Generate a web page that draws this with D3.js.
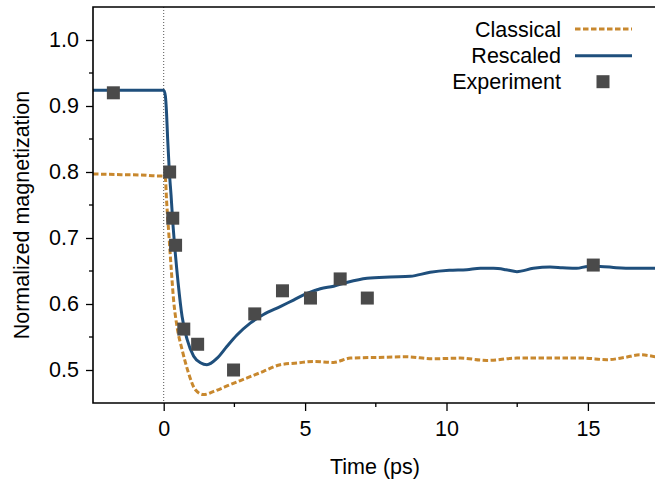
<!DOCTYPE html>
<html><head><meta charset="utf-8">
<script src="https://cdn.jsdelivr.net/npm/d3@7"></script>
<style>body{margin:0;background:#fff}svg{display:block}text{font-family:"Liberation Sans",Arial,sans-serif;fill:#000}</style>
</head><body>
<script>
// Data
const rescaledT = [-2.5,-1.5,-0.5,0.0,0.06,0.1,0.14,0.2,0.26,0.32,0.39,0.51,0.65,0.83,1.06,1.3,1.53,1.89,2.24,2.59,3.06,3.53,4.12,4.59,5.07,5.54,6.01,6.5,7.19,8.0,8.72,9.42,10.1,10.72,11.2,11.66,12.1,12.49,13.07,13.66,14.1,14.6,15.0,15.43,16.0,16.61,17.5];
const rescaledV = [0.924,0.924,0.924,0.924,0.915,0.89,0.85,0.80,0.765,0.725,0.687,0.632,0.581,0.546,0.521,0.511,0.508,0.518,0.536,0.553,0.571,0.584,0.596,0.606,0.616,0.623,0.627,0.633,0.639,0.641,0.642,0.648,0.651,0.652,0.654,0.654,0.652,0.649,0.654,0.656,0.655,0.654,0.657,0.657,0.655,0.654,0.654];
const classicalT = [-2.5,-1.5,-0.8,-0.2,0.0,0.06,0.1,0.18,0.26,0.35,0.47,0.65,0.88,1.12,1.41,1.77,2.36,2.95,3.53,4.12,4.71,5.3,6.0,6.6,7.5,8.6,9.5,10.48,11.43,12.49,13.5,14.84,15.67,16.3,16.84,17.5];
const classicalV = [0.797,0.796,0.7955,0.794,0.794,0.79,0.758,0.707,0.657,0.606,0.566,0.531,0.495,0.470,0.4627,0.4676,0.478,0.488,0.498,0.508,0.5106,0.513,0.5115,0.518,0.519,0.52,0.517,0.518,0.5145,0.518,0.518,0.518,0.5156,0.519,0.523,0.519];
const expT = [-1.78,0.21,0.32,0.42,0.71,1.2,2.47,3.22,4.2,5.19,6.24,7.2,15.19];
const expV = [0.92,0.80,0.73,0.689,0.562,0.539,0.50,0.585,0.62,0.609,0.638,0.609,0.659];
const xTicks = [0,5,10,15];
const xMinor = [2.5,7.5,12.5];
const yTicks = [0.5,0.6,0.7,0.8,0.9,1.0];
const yMinor = [0.55,0.65,0.75,0.85,0.95];
const legendLabels = ["Classical","Rescaled","Experiment"];

const W=655,H=483;
const L=93,T=7,B=403;
const x=d3.scaleLinear().domain([-2.5,17.5]).range([L,658.6]);
const y=d3.scaleLinear().domain([0.45,1.05]).range([B,T]);
const orange="#c8882e", blue="#1f4f7c", grey="#4a4a4a";

const svg=d3.select("body").append("svg").attr("width",W).attr("height",H);
svg.append("defs").append("clipPath").attr("id","clip").append("rect")
  .attr("x",L).attr("y",T).attr("width",x.range()[1]-L).attr("height",B-T);

// dotted zero line
svg.append("line").attr("x1",x(0)).attr("x2",x(0)).attr("y1",T).attr("y2",B)
  .attr("stroke","#555").attr("stroke-width",1).attr("stroke-dasharray","1,2");

const g=svg.append("g").attr("clip-path","url(#clip)");
const line=d3.line().x(d=>x(d[0])).y(d=>y(d[1])).curve(d3.curveMonotoneX);
g.append("path").datum(classicalT.map((t,i)=>[t,classicalV[i]]))
  .attr("d",line).attr("fill","none").attr("stroke",orange).attr("stroke-width",3).attr("stroke-dasharray","5.5,2.5");
g.append("path").datum(rescaledT.map((t,i)=>[t,rescaledV[i]]))
  .attr("d",line).attr("fill","none").attr("stroke",blue).attr("stroke-width",3);
const S=13;
g.selectAll("rect.exp").data(expT.map((t,i)=>[t,expV[i]])).enter().append("rect")
  .attr("x",d=>x(d[0])-S/2).attr("y",d=>y(d[1])-S/2).attr("width",S).attr("height",S).attr("fill",grey);

// axes
const fs=21.5;
const xa=svg.append("g").attr("transform",`translate(0,${B})`)
  .call(d3.axisBottom(x).tickValues(xTicks).tickSize(8).tickPadding(10).tickFormat(d3.format("d")));
xa.append("g").selectAll("line").data(xMinor).enter().append("line")
  .attr("x1",d=>x(d)).attr("x2",d=>x(d)).attr("y1",0).attr("y2",4).attr("stroke","#000").attr("stroke-width",1.3);
const ya=svg.append("g").attr("transform",`translate(${L},0)`)
  .call(d3.axisLeft(y).tickValues(yTicks).tickSize(7).tickPadding(7).tickFormat(d3.format(".1f")));
ya.append("g").selectAll("line").data(yMinor).enter().append("line")
  .attr("y1",d=>y(d)).attr("y2",d=>y(d)).attr("x1",0).attr("x2",-4).attr("stroke","#000").attr("stroke-width",1.3);
[xa,ya].forEach(a=>{
  a.select(".domain").remove();
  a.selectAll(".tick line").attr("stroke","#000").attr("stroke-width",1.3);
  a.selectAll(".tick text").attr("font-size",fs).attr("font-family","Liberation Sans, Arial, sans-serif").attr("fill","#000");
});
// frame lines (left, bottom, top)
svg.append("path").attr("d",`M${W+5},${T}H${L}V${B}H${W+5}`).attr("fill","none").attr("stroke","#000").attr("stroke-width",1.6);

svg.append("text").attr("x",375).attr("y",474).attr("text-anchor","middle").attr("font-size",fs).text("Time (ps)");
svg.append("text").attr("transform",`translate(29,${(T+B)/2+10}) rotate(-90)`).attr("text-anchor","middle").attr("font-size",fs).text("Normalized magnetization");

// legend
const ly=[29,55.7,81.7];
const lg=svg.append("g");
legendLabels.forEach((lab,i)=>{
  lg.append("text").attr("x",561).attr("y",ly[i]).attr("dy","0.35em").attr("text-anchor","end").attr("font-size",fs).text(lab);
});
lg.append("line").attr("x1",575).attr("x2",632).attr("y1",ly[0]).attr("y2",ly[0]).attr("stroke",orange).attr("stroke-width",3).attr("stroke-dasharray","5.5,2.5");
lg.append("line").attr("x1",575).attr("x2",632).attr("y1",ly[1]).attr("y2",ly[1]).attr("stroke",blue).attr("stroke-width",3);
lg.append("rect").attr("x",603-S/2).attr("y",ly[2]-S/2).attr("width",S).attr("height",S).attr("fill",grey);
</script>
</body></html>
